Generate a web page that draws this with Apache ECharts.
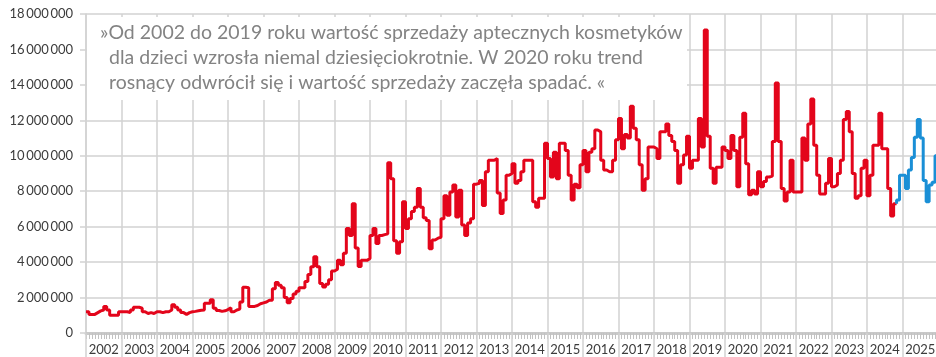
<!DOCTYPE html>
<html>
<head>
<meta charset="utf-8">
<script src="https://cdn.jsdelivr.net/npm/echarts@6/dist/echarts.min.js"></script>
<style>
  html, body { margin: 0; padding: 0; background: #fff; overflow: hidden; }
  #chart { width: 936px; height: 357px; }
</style>
</head>
<body>
<div id="chart"></div>
<script>
// Year labels along the bottom axis
const years = ['2002', '2003', '2004', '2005', '2006', '2007', '2008', '2009', '2010', '2011', '2012', '2013',
               '2014', '2015', '2016', '2017', '2018', '2019', '2020', '2021', '2022', '2023', '2024', '2025'];

// Monthly sales value (PLN), January to December of each year
const sales2002 = [1200000, 1050000, 1050000, 1150000, 1250000, 1300000, 1500000, 1300000, 1000000, 1000000, 1000000, 1200000];
const sales2003 = [1200000, 1200000, 1150000, 1300000, 1450000, 1450000, 1400000, 1200000, 1100000, 1150000, 1100000, 1200000];
const sales2004 = [1200000, 1150000, 1200000, 1200000, 1300000, 1600000, 1450000, 1300000, 1150000, 1050000, 1150000, 1200000];
const sales2005 = [1220000, 1250000, 1280000, 1300000, 1680000, 1680000, 1880000, 1400000, 1270000, 1220000, 1250000, 1320000];
const sales2006 = [1430000, 1200000, 1300000, 1350000, 1750000, 2580000, 2550000, 1500000, 1500000, 1550000, 1650000, 1700000];
const sales2007 = [1750000, 1850000, 1850000, 2500000, 2850000, 2700000, 2550000, 2000000, 1700000, 1950000, 2200000, 2350000];
const sales2008 = [2550000, 2550000, 2900000, 3300000, 3740000, 4300000, 3740000, 2800000, 2600000, 2750000, 3000000, 3500000];
const sales2009 = [3600000, 4100000, 3850000, 4500000, 5900000, 5500000, 7300000, 4800000, 3750000, 4100000, 4100000, 4200000];
const sales2010 = [5500000, 5900000, 5050000, 5500000, 5550000, 5600000, 9600000, 8700000, 5200000, 4500000, 5150000, 7400000];
const sales2011 = [5900000, 6450000, 6850000, 7100000, 8150000, 7100000, 6500000, 6350000, 4750000, 5250000, 5350000, 5400000];
const sales2012 = [6450000, 7750000, 6650000, 7950000, 8350000, 6550000, 8050000, 6100000, 5500000, 6200000, 6450000, 8400000];
const sales2013 = [8450000, 8600000, 7200000, 9100000, 9750000, 9750000, 9850000, 7900000, 6750000, 7500000, 8900000, 9000000];
const sales2014 = [9550000, 8450000, 8600000, 9100000, 9750000, 9750000, 9750000, 7400000, 7100000, 7600000, 7600000, 10700000];
const sales2015 = [9850000, 8800000, 10200000, 8700000, 10700000, 10700000, 10300000, 8900000, 7500000, 8400000, 8200000, 9500000];
const sales2016 = [10300000, 9100000, 10200000, 10400000, 11450000, 11350000, 9750000, 9200000, 9100000, 9100000, 9750000, 10900000];
const sales2017 = [12100000, 10400000, 11200000, 11000000, 12800000, 11550000, 10900000, 9500000, 8050000, 8700000, 10500000, 10500000];
const sales2018 = [10400000, 9850000, 11350000, 11350000, 11800000, 11150000, 10800000, 10300000, 8450000, 9500000, 10050000, 11100000];
const sales2019 = [9300000, 9750000, 9750000, 12100000, 10500000, 17100000, 11100000, 9300000, 8450000, 9350000, 9350000, 10500000];
const sales2020 = [10300000, 9850000, 11150000, 10300000, 8250000, 11050000, 12400000, 9550000, 7800000, 8050000, 7850000, 9100000];
const sales2021 = [8250000, 8550000, 8800000, 8850000, 10800000, 14100000, 10800000, 8150000, 7450000, 7950000, 9750000, 7950000];
const sales2022 = [7950000, 7950000, 11000000, 9750000, 11800000, 13200000, 10600000, 8900000, 7850000, 7850000, 8450000, 9850000];
const sales2023 = [8250000, 8350000, 9000000, 9750000, 12050000, 12500000, 11350000, 9000000, 7600000, 7750000, 9300000, 9750000];
const sales2024 = [7750000, 8900000, 10600000, 10600000, 12400000, 10400000, 10400000, 8150000, 6600000, 7300000, 7500000, 8900000];
const sales2025 = [8900000, 8150000, 9200000, 9900000, 11050000, 12050000, 11000000, 8600000, 7400000, 8350000, 8500000, 10000000];

// Months from November 2024 onward are drawn in blue
const blueFromYear = 2024;
const blueFromMonth = 11;

const monthly = [
  sales2002, sales2003, sales2004, sales2005, sales2006, sales2007, sales2008, sales2009,
  sales2010, sales2011, sales2012, sales2013, sales2014, sales2015, sales2016, sales2017,
  sales2018, sales2019, sales2020, sales2021, sales2022, sales2023, sales2024, sales2025
].flat();

const firstYear = Number(years[0]);
const split = (blueFromYear - firstYear) * 12 + (blueFromMonth - 1);
const last = monthly.length - 1;

// x = month index counted from January of the first year; each value holds for its whole month
const redData = [];
for (let m = 0; m < split; m++) redData.push([m, monthly[m]]);
redData.push([split, monthly[split - 1]]);

const blueData = [[split, monthly[split - 1]]];
for (let m = split; m <= last; m++) blueData.push([m, monthly[m]]);
blueData.push([last + 1, monthly[last]]);

const gridColor = '#d2d2d2';
const labelColor = '#3c3c3c';
const fontFamily = 'Lato, "Noto Sans", sans-serif';
const noteFont = '19.5px Lato, "Noto Sans", sans-serif';
const noteColor = '#838383';

function spaced(v) {
  return String(v).replace(/\B(?=(\d{3})+(?!\d))/g, '\u2009');
}

const chart = echarts.init(document.getElementById('chart'), null, { renderer: 'canvas' });

chart.setOption({
  animation: false,
  backgroundColor: '#ffffff',
  grid: {
    left: 86,
    top: 14,
    width: 852,
    height: 319,
    containLabel: false,
    outerBoundsMode: 'none'
  },
  xAxis: [
    {
      // monthly scale used by the line
      type: 'value',
      min: 0,
      max: years.length * 12,
      interval: 12,
      position: 'bottom',
      axisLine: { show: true, onZero: false, lineStyle: { color: '#c9c9c9', width: 3 } },
      axisTick: { show: true, length: 6, lineStyle: { color: '#c2c2c2', width: 1 } },
      minorTick: { show: true, splitNumber: 12, length: 6, lineStyle: { color: '#c2c2c2', width: 1 } },
      axisLabel: { show: false },
      splitLine: { show: false }
    },
    {
      // year bands: labels centred in each year, separators at year boundaries
      type: 'category',
      data: years,
      boundaryGap: true,
      position: 'bottom',
      axisLine: { show: false },
      axisTick: { show: true, length: 24, lineStyle: { color: gridColor, width: 1.5 } },
      axisLabel: {
        show: true,
        interval: 0,
        margin: 10,
        color: labelColor,
        fontFamily: fontFamily,
        fontSize: 13
      },
      splitLine: { show: true, interval: 0, lineStyle: { color: gridColor, width: 1.5 } }
    }
  ],
  yAxis: {
    type: 'value',
    min: 0,
    max: 18000000,
    interval: 2000000,
    axisLine: { show: true, lineStyle: { color: gridColor, width: 1.5 } },
    axisTick: { show: true, length: 6, lineStyle: { color: gridColor, width: 1.5 } },
    axisLabel: {
      margin: 13,
      color: labelColor,
      fontFamily: fontFamily,
      fontSize: 13,
      formatter: spaced
    },
    splitLine: { show: true, lineStyle: { color: gridColor, width: 1.5 } }
  },
  graphic: [
    {
      type: 'rect',
      z: 10,
      shape: { x: 87, y: 17, width: 600, height: 83 },
      style: { fill: '#ffffff' }
    },
    {
      type: 'text', z: 11, x: 100, y: 33,
      style: {
        text: '»Od 2002 do 2019 roku wartość sprzedaży aptecznych kosmetyków',
        font: noteFont, fill: noteColor, verticalAlign: 'middle'
      }
    },
    {
      type: 'text', z: 11, x: 109, y: 58,
      style: {
        text: 'dla dzieci wzrosła niemal dziesięciokrotnie. W 2020 roku trend',
        font: noteFont, fill: noteColor, verticalAlign: 'middle'
      }
    },
    {
      type: 'text', z: 11, x: 109, y: 83,
      style: {
        text: 'rosnący odwrócił się i wartość sprzedaży zaczęła spadać. «',
        font: noteFont, fill: noteColor, verticalAlign: 'middle'
      }
    }
  ],
  series: [
    {
      name: 'sprzedaż',
      type: 'line',
      xAxisIndex: 0,
      step: 'end',
      symbol: 'none',
      data: redData,
      lineStyle: { color: '#e3051b', width: 3 },
      z: 5
    },
    {
      name: 'sprzedaż (nowe dane)',
      type: 'line',
      xAxisIndex: 0,
      step: 'end',
      symbol: 'none',
      data: blueData,
      lineStyle: { color: '#1a8fd6', width: 3 },
      z: 5
    }
  ]
});
</script>
</body>
</html>
